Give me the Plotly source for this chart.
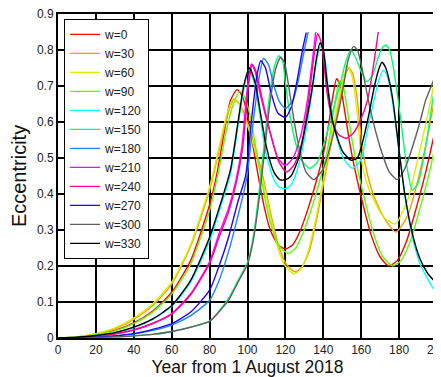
import plotly.graph_objects as go

# ---- data ----
labels = ["w=0", "w=30", "w=60", "w=90", "w=120", "w=150", "w=180", "w=210", "w=240", "w=270", "w=300", "w=330"]
colors = ["#ff0000", "#ff9a00", "#d6f000", "#5cff00", "#00ffff", "#00ff6a", "#1a86ff", "#ff00ff", "#ff0090", "#2200ff", "#606060", "#000000"]

x_w0 = [0,10,20,30,40,50,60,70,80,84,88,91,94.5,97,100,103,106,109,112,116,120,124,128,132,136,140,143,145,147,149,151,154,157,161,165,170,174.5,179,184,189,194,200]
e_w0 = [0,0.002,0.009,0.021,0.042,0.075,0.127,0.215,0.37,0.46,0.58,0.66,0.69,0.675,0.62,0.53,0.44,0.36,0.30,0.26,0.247,0.26,0.30,0.36,0.43,0.51,0.60,0.67,0.72,0.70,0.64,0.54,0.46,0.37,0.29,0.225,0.20,0.215,0.27,0.36,0.46,0.60]

x_w30 = [0,10,20,30,40,50,60,70,80,85,89,93,96.5,100.5,104.5,108.5,112.5,116.5,120.5,125,128.5,132.5,136.5,140.5,144.5,148.5,151.5,153.5,155.5,158,160.5,163.5,167,172.5,178.3,184.5,190,195,200]
e_w30 = [0,0.003,0.011,0.026,0.052,0.09,0.15,0.255,0.41,0.52,0.61,0.665,0.645,0.59,0.52,0.44,0.34,0.255,0.205,0.184,0.195,0.24,0.33,0.44,0.55,0.66,0.73,0.75,0.735,0.66,0.53,0.45,0.39,0.33,0.294,0.34,0.44,0.56,0.70]

x_w60 = [0,10,20,30,40,50,60,70,80,85,89,92.5,96,100,104,108,112,116,120,124.5,128,132,136,140,144,148,151,153,155.5,158,160,163,166.7,172,178,184.5,190,196.7,200]
e_w60 = [0,0.003,0.012,0.028,0.055,0.095,0.155,0.26,0.42,0.53,0.62,0.665,0.645,0.59,0.52,0.44,0.34,0.25,0.20,0.178,0.19,0.24,0.33,0.44,0.55,0.66,0.73,0.755,0.72,0.62,0.50,0.43,0.383,0.335,0.317,0.383,0.50,0.66,0.755]

x_w90 = [0,10,20,30,40,50,60,70,80,85,89,92.5,96,98.5,101.5,104.5,107.5,110.5,113.5,117.5,121.5,125.5,129.5,133.5,137.5,141.5,144.5,146.5,148.5,150.5,152.5,155.5,158.5,162.5,166.5,171.5,176.5,181,186,191,196,200]
e_w90 = [0,0.002,0.009,0.02,0.04,0.072,0.122,0.205,0.355,0.47,0.58,0.65,0.685,0.67,0.615,0.525,0.435,0.355,0.295,0.25,0.235,0.25,0.295,0.355,0.425,0.505,0.595,0.665,0.715,0.70,0.64,0.54,0.46,0.37,0.29,0.225,0.20,0.215,0.27,0.36,0.46,0.56]

x_w120 = [0,10,20,30,40,50,60,70,80,85,91,95,98,100.5,103.5,106.5,109.5,113.5,116.5,120,123,127,131,134,136.5,138.5,140.5,142.5,145.5,150.5,155.4,159.8,163,166.7,169.5,171.8,173.5,175.5,177.5,180.5,183.5,187.5,191.5,195.5,200]
e_w120 = [0,0.002,0.007,0.015,0.029,0.052,0.088,0.155,0.27,0.35,0.455,0.59,0.69,0.745,0.71,0.62,0.52,0.445,0.42,0.415,0.425,0.48,0.58,0.68,0.77,0.81,0.79,0.70,0.59,0.50,0.471,0.494,0.57,0.66,0.72,0.744,0.73,0.69,0.62,0.50,0.38,0.27,0.20,0.16,0.119]

x_w150 = [0,10,20,30,40,50,60,70,80,85,90,95,100,103,106,109,112,114.5,116.5,118.5,120,123,126,129,133,137,142,146,149,152,154.5,157,160,163,166,169,171,173,175,177,179,181,184,187,190,194,197.7,200]
e_w150 = [0,0.0005,0.002,0.003,0.006,0.01,0.018,0.03,0.047,0.075,0.11,0.16,0.21,0.28,0.40,0.55,0.69,0.76,0.784,0.77,0.708,0.60,0.53,0.49,0.471,0.49,0.57,0.65,0.707,0.77,0.80,0.78,0.74,0.712,0.73,0.78,0.805,0.814,0.80,0.75,0.68,0.60,0.48,0.41,0.43,0.53,0.66,0.72]

x_w180 = [0,10,20,30,40,50,60,70,80,85,90,95,99.5,103,106,108.5,111,114,117,120,124,127,130,132]
e_w180 = [0,0.001,0.003,0.006,0.011,0.021,0.036,0.062,0.105,0.16,0.24,0.34,0.44,0.60,0.72,0.777,0.76,0.70,0.655,0.638,0.66,0.72,0.80,0.85]

x_w210 = [0,10,20,30,40,50,60,70,80,85,90,94,97,100,102,104,107,112,116,120,124,128,131.6,134,136]
e_w210 = [0,0.001,0.005,0.012,0.023,0.041,0.068,0.123,0.212,0.29,0.36,0.44,0.53,0.70,0.761,0.74,0.67,0.57,0.50,0.479,0.50,0.56,0.66,0.76,0.85]

x_w240 = [0,10,20,30,40,50,60,70,80,85,90,94,97.5,100.5,102.5,104.5,107.5,112.5,116.5,120.5,124.5,128.5,132,135,137,139,142,145,148,152,156,160,163.3,166,169]
e_w240 = [0,0.001,0.005,0.011,0.022,0.04,0.066,0.12,0.207,0.28,0.35,0.43,0.53,0.70,0.76,0.74,0.67,0.56,0.49,0.461,0.48,0.54,0.65,0.78,0.845,0.82,0.68,0.60,0.565,0.555,0.57,0.61,0.66,0.74,0.85]

x_w270 = [0,10,20,30,40,50,60,70,80,85,90,95,99,102,105,107,109.5,112.5,116,120,123,126,129,131]
e_w270 = [0,0.001,0.003,0.006,0.012,0.024,0.04,0.072,0.133,0.20,0.28,0.38,0.45,0.60,0.73,0.77,0.75,0.68,0.625,0.613,0.64,0.71,0.80,0.848]

x_w300 = [0,10,20,30,40,50,60,70,80,85,90,95,100,103,106,109,112,115,117.5,119.5,122,125,128,131,135,140,145,150,153,156,158,160,165,170,175,179,183,187,191,194,197,200]
e_w300 = [0,0.0005,0.002,0.003,0.006,0.01,0.018,0.03,0.046,0.073,0.105,0.155,0.205,0.27,0.38,0.52,0.66,0.75,0.78,0.765,0.69,0.59,0.51,0.46,0.44,0.47,0.56,0.68,0.77,0.81,0.80,0.76,0.63,0.53,0.46,0.44,0.47,0.53,0.60,0.66,0.70,0.74]

x_w330 = [0,10,20,30,40,50,60,70,80,85,91,95,98,101,104,107,110,114,117,120,123,127,131,134,136.5,138.3,140,142,145,150,154.5,158,161,164,167,169.5,171,173,175,177,180,183,187,191,195,200]
e_w330 = [0,0.002,0.007,0.015,0.03,0.053,0.09,0.16,0.28,0.36,0.467,0.60,0.70,0.75,0.71,0.62,0.53,0.46,0.44,0.44,0.45,0.50,0.60,0.69,0.78,0.82,0.80,0.71,0.60,0.52,0.494,0.50,0.55,0.62,0.70,0.75,0.766,0.75,0.71,0.65,0.52,0.40,0.29,0.22,0.18,0.15]

xs = [x_w0, x_w30, x_w60, x_w90, x_w120, x_w150, x_w180, x_w210, x_w240, x_w270, x_w300, x_w330]
es = [e_w0, e_w30, e_w60, e_w90, e_w120, e_w150, e_w180, e_w210, e_w240, e_w270, e_w300, e_w330]

x_ticks = [0, 20, 40, 60, 80, 100, 120, 140, 160, 180, 200]
y_ticks = [0, 0.1, 0.2, 0.3, 0.4, 0.5, 0.6, 0.7, 0.8, 0.9]
y_tick_text = ["0", "0.1", "0.2", "0.3", "0.4", "0.5", "0.6", "0.7", "0.8", "0.9"]

FONT = "Arial, 'Liberation Sans', sans-serif"

fig = go.Figure()
for lab, col, xv, ev in zip(labels, colors, xs, es):
    fig.add_trace(go.Scatter(x=xv, y=ev, mode="lines", name=lab,
                             line=dict(color=col, width=1.4, shape="spline", smoothing=0.6)))

# page body has an 8px margin, so the figure is sized/offset to compensate
fig.update_layout(
    width=433, height=369,
    margin=dict(l=50, r=4, t=6, b=39, autoexpand=False),
    paper_bgcolor="white", plot_bgcolor="white",
    font=dict(family=FONT, size=12, color="#222"),
    showlegend=True,
    legend=dict(x=0.016, y=0.985, xanchor="left", yanchor="top",
                bgcolor="white", bordercolor="#000", borderwidth=1,
                font=dict(size=12, color="#222"), tracegroupgap=0,
                itemwidth=30),
    xaxis=dict(range=[0, 200], tickvals=x_ticks, showgrid=True, gridcolor="#000", gridwidth=1.5,
               showline=True, linecolor="#000", linewidth=2, mirror=True, zeroline=False,
               ticks="", tickfont=dict(size=12, color="#222"), automargin=False,
               ticklabeloverflow="allow",
               title=dict(text="Year from 1 August 2018", font=dict(size=17.5, color="#111"), standoff=4)),
    yaxis=dict(range=[0, 0.9], tickvals=y_ticks, ticktext=y_tick_text, showgrid=True, gridcolor="#000", gridwidth=1.5,
               showline=True, linecolor="#000", linewidth=2, mirror=True, zeroline=False,
               ticks="", tickfont=dict(size=12, color="#222"), automargin=False,
               ticklabeloverflow="allow",
               title=dict(text="Eccentricity", font=dict(size=20, color="#111"), standoff=5)),
)

fig.write_html("out.html")
